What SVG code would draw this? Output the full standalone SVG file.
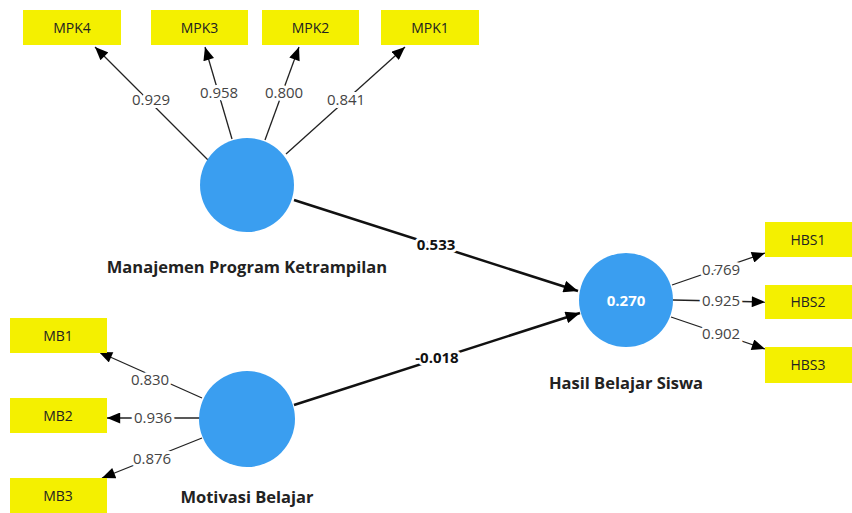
<svg xmlns="http://www.w3.org/2000/svg" width="852" height="513" viewBox="0 0 852 513">
<style>
.box{fill:#f4f000}
.bt{font-family:"Open Sans","Noto Sans",sans-serif;font-size:14px;fill:#222;text-anchor:middle}
.lv{fill:#3a9ef0}
.lt{font-family:"Open Sans","Noto Sans",sans-serif;font-size:16.5px;font-weight:bold;fill:#222;text-anchor:middle}
.ln{stroke:#222;stroke-width:1.3;fill:none;marker-end:url(#a)}
.pth{stroke:#111;stroke-width:2.5;fill:none;marker-end:url(#b)}
.w{font-family:"Open Sans","Noto Sans",sans-serif;font-size:15px;fill:#444;text-anchor:middle;stroke:#fff;stroke-width:6;paint-order:stroke}
.pw{font-family:"Open Sans","Noto Sans",sans-serif;font-size:15px;font-weight:bold;fill:#111;text-anchor:middle;stroke:#fff;stroke-width:6;paint-order:stroke}
</style>
<defs>
<marker id="a" viewBox="0 0 12 10" refX="12" refY="5" markerWidth="14" markerHeight="11" markerUnits="userSpaceOnUse" orient="auto"><path d="M0,0 L12,5 L0,10 Z" fill="#000"/></marker>
<marker id="b" viewBox="0 0 12 10" refX="12" refY="5" markerWidth="15" markerHeight="12" markerUnits="userSpaceOnUse" orient="auto"><path d="M0,0 L12,5 L0,10 Z" fill="#000"/></marker>
</defs>
<rect width="852" height="513" fill="#fff"/>
<g id="connectors">
<line class="ln" x1="208" y1="160" x2="95" y2="47"/>
<line class="ln" x1="232" y1="139" x2="205" y2="47"/>
<line class="ln" x1="265" y1="140" x2="299" y2="47"/>
<line class="ln" x1="286" y1="154" x2="405" y2="47"/>
<line class="pth" x1="294" y1="200" x2="578" y2="291"/>
<line class="pth" x1="294" y1="405" x2="580" y2="313"/>
<line class="ln" x1="672" y1="285" x2="765" y2="253"/>
<line class="ln" x1="673" y1="300" x2="765" y2="302"/>
<line class="ln" x1="671" y1="317" x2="765" y2="349"/>
<line class="ln" x1="202" y1="398" x2="99" y2="352"/>
<line class="ln" x1="200" y1="418" x2="107" y2="418"/>
<line class="ln" x1="202" y1="438" x2="102" y2="478"/>
<text class="w" x="151" y="105">0.929</text>
<text class="w" x="219" y="98">0.958</text>
<text class="w" x="284" y="98">0.800</text>
<text class="w" x="346" y="105">0.841</text>
<text class="pw" x="436" y="250">0.533</text>
<text class="pw" x="437" y="363">-0.018</text>
<text class="w" x="721" y="275">0.769</text>
<text class="w" x="721" y="306">0.925</text>
<text class="w" x="721" y="339">0.902</text>
<text class="w" x="150" y="385">0.830</text>
<text class="w" x="153" y="423">0.936</text>
<text class="w" x="152" y="464">0.876</text>
</g>
<g id="MPK4"><rect class="box" x="23" y="10" width="98" height="35"/><text class="bt" x="72" y="33">MPK4</text></g>
<g id="MPK3"><rect class="box" x="151" y="10" width="97" height="35"/><text class="bt" x="199.5" y="33">MPK3</text></g>
<g id="MPK2"><rect class="box" x="262" y="10" width="97" height="35"/><text class="bt" x="310.5" y="33">MPK2</text></g>
<g id="MPK1"><rect class="box" x="381" y="10" width="98" height="35"/><text class="bt" x="430" y="33">MPK1</text></g>
<g id="HBS1"><rect class="box" x="765" y="222" width="87" height="35"/><text class="bt" x="808" y="245">HBS1</text></g>
<g id="HBS2"><rect class="box" x="765" y="285" width="87" height="34"/><text class="bt" x="808" y="307">HBS2</text></g>
<g id="HBS3"><rect class="box" x="765" y="347" width="87" height="36"/><text class="bt" x="808" y="370">HBS3</text></g>
<g id="MB1"><rect class="box" x="10" y="318" width="97" height="35"/><text class="bt" x="58" y="341">MB1</text></g>
<g id="MB2"><rect class="box" x="10" y="398" width="97" height="35"/><text class="bt" x="58" y="421">MB2</text></g>
<g id="MB3"><rect class="box" x="10" y="478" width="97" height="35"/><text class="bt" x="58" y="501">MB3</text></g>
<g id="MPK"><circle class="lv" cx="247" cy="185" r="47"/><text class="lt" x="247" y="273">Manajemen Program Ketrampilan</text></g>
<g id="MB"><circle class="lv" cx="247" cy="419" r="48"/><text class="lt" x="247" y="503">Motivasi Belajar</text></g>
<g id="HBS"><circle class="lv" cx="626" cy="300" r="47"/><text class="lt" x="626" y="306" style="fill:#fff;font-size:15px">0.270</text><text class="lt" x="626" y="389">Hasil Belajar Siswa</text></g>
</svg>
